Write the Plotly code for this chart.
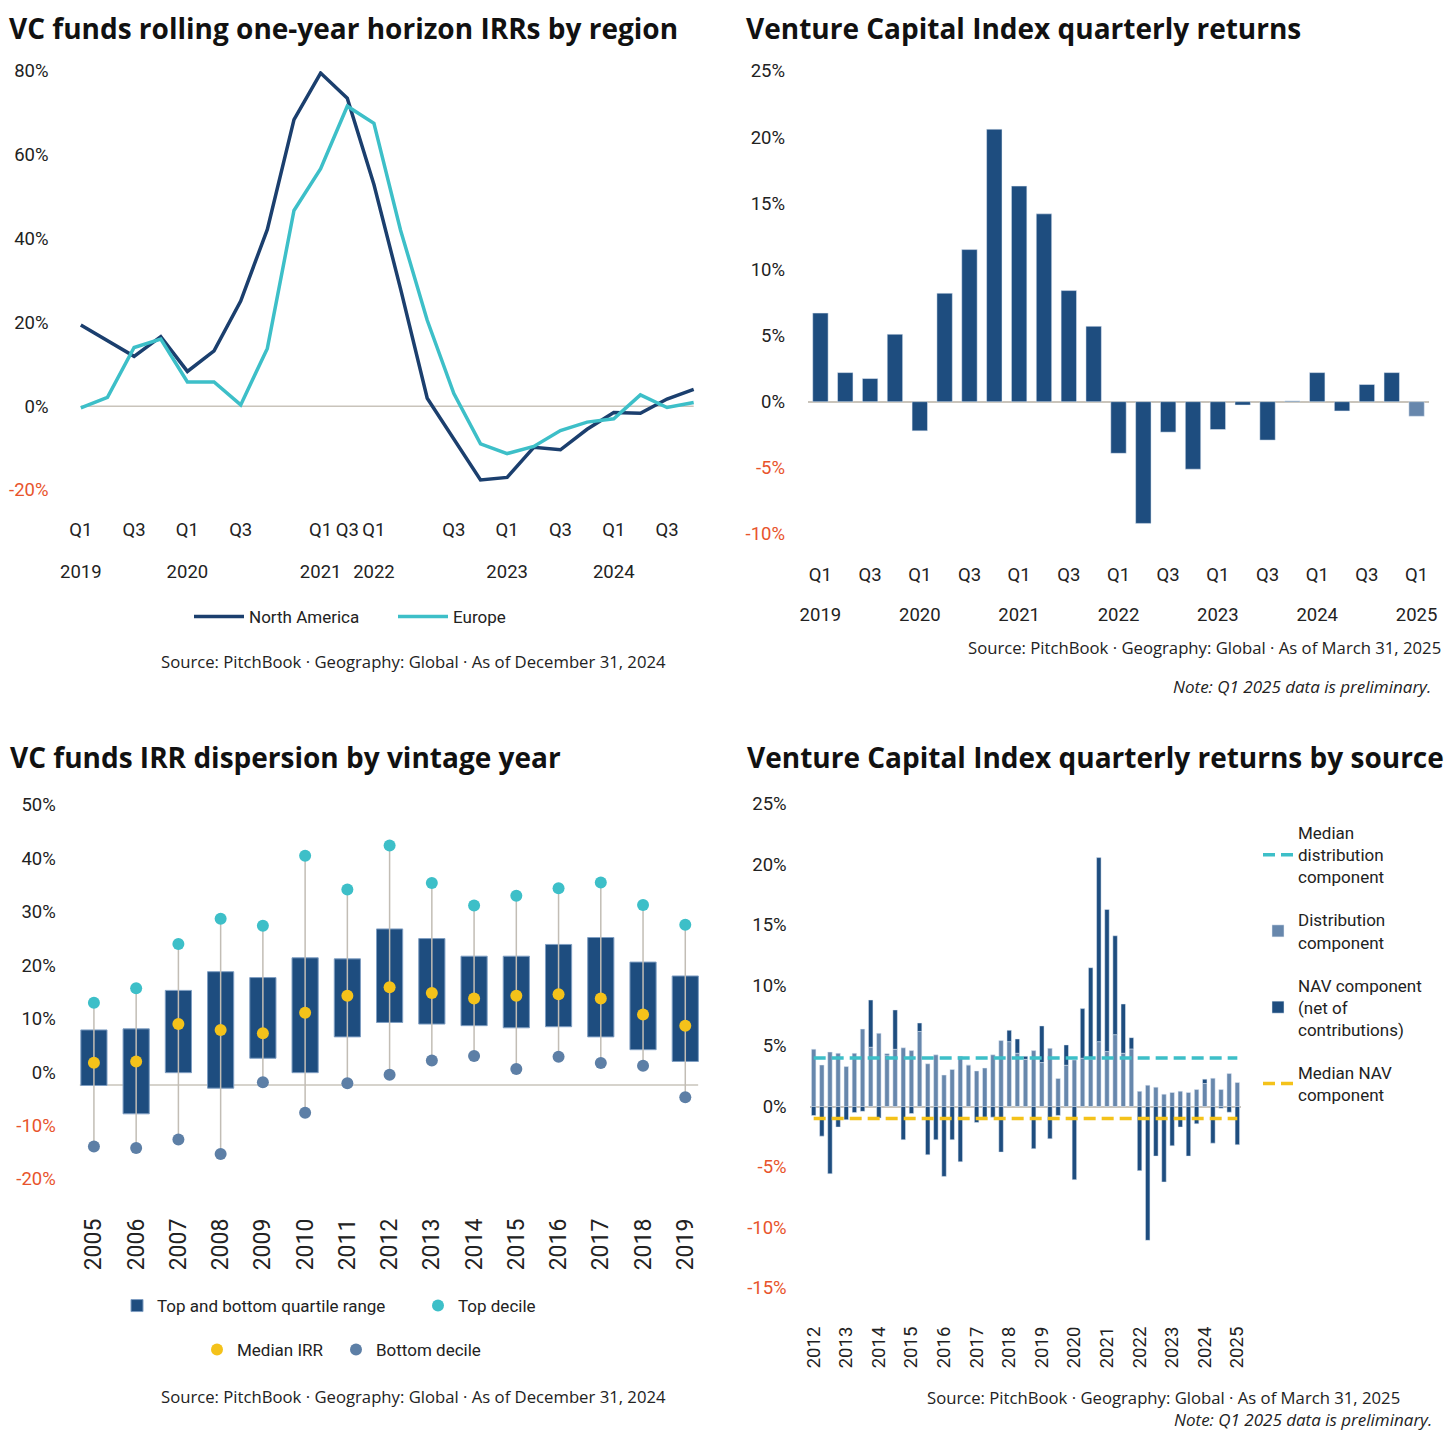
import plotly.graph_objects as go

W, H = 1456, 1440

# ---------------- DATA ----------------
# Panel 1: rolling one-year horizon IRRs by region (2019 Q1 .. 2024 Q4)
p1_quarters = [f"{y} Q{q}" for y in range(2019, 2025) for q in range(1, 5)]
na_irr = [19.4, 15.7, 11.9, 16.6, 8.3, 13.2, 25.1, 42.2, 68.4, 79.5, 73.5, 52.9,
          28.0, 1.9, -8.0, -17.6, -17.0, -9.8, -10.4, -5.5, -1.5, -1.7, 1.7, 4.0]
eu_irr = [-0.4, 2.1, 14.0, 16.0, 5.8, 5.8, 0.3, 13.8, 46.7, 56.7, 71.6, 67.5,
          42.0, 20.5, 3.0, -9.0, -11.3, -9.6, -5.8, -3.8, -3.0, 2.7, -0.3, 0.9]
p1_qtick_quarters = ["2019 Q1", "2019 Q3", "2020 Q1", "2020 Q3", "2021 Q2", "2021 Q3",
                     "2021 Q4", "2022 Q3", "2023 Q1", "2023 Q3", "2024 Q1", "2024 Q3"]
p1_qtick_text = ["Q1", "Q3", "Q1", "Q3", "Q1", "Q3", "Q1", "Q3", "Q1", "Q3", "Q1", "Q3"]
p1_ytick_quarters = ["2019 Q1", "2020 Q1", "2021 Q2", "2021 Q4", "2023 Q1", "2024 Q1"]
p1_ytick_text = ["2019", "2020", "2021", "2022", "2023", "2024"]
p1_yticks = [-20, 0, 20, 40, 60, 80]

# Panel 2: Venture Capital Index quarterly returns (2019 Q1 .. 2025 Q1)
p2_quarters = [f"{y} Q{q}" for y in range(2019, 2026) for q in range(1, 5)][:25]
p2_returns = [6.7, 2.2, 1.75, 5.1, -2.2, 8.2, 11.5, 20.6, 16.3, 14.2, 8.4, 5.7,
              -3.9, -9.2, -2.3, -5.1, -2.1, -0.25, -2.9, 0.06, 2.2, -0.7, 1.3, 2.2, -1.1]
p2_preliminary = "2025 Q1"
p2_qtick_quarters = p2_quarters[::2]
p2_qtick_text = ["Q1", "Q3"] * 6 + ["Q1"]
p2_ytick_quarters = ["2019 Q1", "2020 Q1", "2021 Q1", "2022 Q1", "2023 Q1", "2024 Q1", "2025 Q1"]
p2_ytick_text = ["2019", "2020", "2021", "2022", "2023", "2024", "2025"]
p2_yticks = [-10, -5, 0, 5, 10, 15, 20, 25]

# Panel 3: IRR dispersion by vintage year
vintages = [str(y) for y in range(2005, 2020)]
top_decile = [13.0, 15.7, 24.0, 28.7, 27.4, 40.5, 34.2, 42.4, 35.4, 31.2, 33.0, 34.4, 35.5, 31.3, 27.6]
top_quartile = [7.9, 8.1, 15.3, 18.8, 17.7, 21.4, 21.2, 26.8, 25.0, 21.7, 21.7, 23.9, 25.2, 20.6, 18.0]
median_irr = [1.75, 2.0, 9.0, 7.9, 7.3, 11.1, 14.3, 15.9, 14.8, 13.8, 14.3, 14.6, 13.8, 10.8, 8.7]
bottom_quartile = [-2.5, -7.8, -0.1, -3.0, 2.6, -0.1, 6.6, 9.3, 9.0, 8.7, 8.3, 8.5, 6.6, 4.2, 2.0]
bottom_decile = [-13.9, -14.2, -12.6, -15.3, -1.9, -7.6, -2.1, -0.5, 2.2, 3.0, 0.6, 2.9, 1.7, 1.2, -4.7]
p3_baseline = -2.4
p3_yticks = [-20, -10, 0, 10, 20, 30, 40, 50]

# Panel 4: quarterly returns by source (2012 Q1 .. 2025 Q1)
p4_quarters = [f"{y} Q{q}" for y in range(2012, 2026) for q in range(1, 5)][:53]
dist_component = [4.74, 3.43, 4.5, 4.4, 3.3, 4.4, 6.4, 4.9, 6.05, 4.26,
                  4.73, 4.85, 4.62, 6.2, 3.53, 4.27, 2.6, 3.06, 4.15, 3.44,
                  2.94, 3.18, 4.27, 5.45, 5.36, 4.4, 3.9, 4.62, 3.63, 4.81,
                  2.31, 3.41, 3.85, 3.99, 3.93, 5.36, 4.54, 5.94, 4.4, 4.76,
                  1.25, 1.76, 1.6, 1.02, 1.16, 1.27, 1.16, 1.4, 1.9, 2.34,
                  1.4, 2.72, 1.98]
nav_component = [-0.75, -2.45, -5.56, -1.7, -1.1, -0.5, -0.4, 3.9, -0.96, 0.1,
                 3.25, -2.75, -0.58, 0.7, -3.99, -2.75, -5.78, -2.75, -4.57, 0.0,
                 -1.32, -0.88, -0.88, -3.77, 0.94, 1.18, 0.25, -3.49, 3.03, -2.67,
                 -0.74, 1.68, -6.05, 4.1, 7.54, 15.21, 11.74, 8.17, 4.07, 0.93,
                 -5.3, -11.06, -4.1, -6.24, -3.25, -1.7, -4.1, -1.43, 0.36, -3.03,
                 -0.14, -0.47, -3.16]
median_dist = 4.0
median_nav = -1.0
p4_year_ticks = [f"{y} Q1" for y in range(2012, 2026)]
p4_year_text = [str(y) for y in range(2012, 2026)]
p4_yticks = [-15, -10, -5, 0, 5, 10, 15, 20, 25]

# ---------------- STYLE ----------------
NAVY = "#1b3f6e"
TEAL = "#3dbfc8"
BAR = "#1e4d7f"
BAR_LIGHT = "#6787ac"
BOTTOM_DOT = "#5d7fa6"
YELLOW = "#f4c21a"
RED = "#e8542c"
ZERO = "#c9c4bb"
WHISK = "#c2bdb5"
TXT = "#222222"
COND = "Roboto, Liberation Sans, sans-serif"
TITLE_FONT = dict(family="Open Sans, sans-serif", size=28, color="#111111")
SRC_FONT = dict(family="Open Sans, sans-serif", size=16.7, color="#222222")
NOTE_FONT = dict(family="Open Sans, sans-serif", size=17, color="#222222")
TICK_FONT = dict(family=COND, size=18.5, color=TXT)
LEG_FONT = dict(family=COND, size=17, color=TXT)

OFF = 8  # page body margin of the html page


def px_x(p):
    return (p - OFF) / W


def px_y(p):
    return 1 - (p - OFF) / H


def pct_text(vals):
    return [f"<span style='color:{RED}'>{v}%</span>" if v < 0 else f"{v}%" for v in vals]


fig = go.Figure()

# ---------------- PANEL 1 ----------------
p1_x = list(range(len(p1_quarters)))
fig.add_trace(go.Scatter(x=p1_x, y=na_irr, mode="lines", name="North America", legendwidth=139,
                         line=dict(color=NAVY, width=3.5), xaxis="x", yaxis="y", legend="legend"))
fig.add_trace(go.Scatter(x=p1_x, y=eu_irr, mode="lines", name="Europe",
                         line=dict(color=TEAL, width=3.5), xaxis="x", yaxis="y", legend="legend"))
fig.add_trace(go.Scatter(x=[p1_quarters.index(q) for q in p1_ytick_quarters], y=[None] * len(p1_ytick_quarters),
                         mode="markers", showlegend=False, hoverinfo="skip", xaxis="x5", yaxis="y"))

# ---------------- PANEL 2 ----------------
p2_x = list(range(len(p2_quarters)))
fig.add_trace(go.Bar(x=p2_x, y=p2_returns, showlegend=False, width=0.62,
                     marker=dict(color=[BAR_LIGHT if q == p2_preliminary else BAR for q in p2_quarters]),
                     xaxis="x2", yaxis="y2"))
fig.add_trace(go.Scatter(x=[p2_quarters.index(q) for q in p2_ytick_quarters], y=[None] * len(p2_ytick_quarters),
                         mode="markers", showlegend=False, hoverinfo="skip", xaxis="x6", yaxis="y2"))

# ---------------- PANEL 3 ----------------
wx, wy = [], []
for v, lo, hi in zip(vintages, bottom_decile, top_decile):
    wx += [v, v, None]
    wy += [lo, hi, None]
fig.add_trace(go.Scatter(x=wx, y=wy, mode="lines", line=dict(color=WHISK, width=1.5),
                         showlegend=False, hoverinfo="skip", xaxis="x3", yaxis="y3"))
fig.add_trace(go.Bar(x=vintages, y=[t - b for t, b in zip(top_quartile, bottom_quartile)],
                     base=bottom_quartile, name="Top and bottom quartile range", width=0.62, legendwidth=256,
                     marker=dict(color=BAR, line=dict(color="#7f9ec2", width=1)),
                     xaxis="x3", yaxis="y3", legend="legend2"))
fig.add_trace(go.Scatter(x=vintages, y=top_decile, mode="markers", name="Top decile",
                         marker=dict(color=TEAL, size=12), xaxis="x3", yaxis="y3", legend="legend2"))
fig.add_trace(go.Scatter(x=vintages, y=median_irr, mode="markers", name="Median IRR", legendwidth=94,
                         marker=dict(color=YELLOW, size=12), xaxis="x3", yaxis="y3", legend="legend3"))
fig.add_trace(go.Scatter(x=vintages, y=bottom_decile, mode="markers", name="Bottom decile",
                         marker=dict(color=BOTTOM_DOT, size=12), xaxis="x3", yaxis="y3", legend="legend3"))

# ---------------- PANEL 4 ----------------
fig.add_trace(go.Bar(x=p4_quarters, y=dist_component, name="Distribution<br>component", width=0.55,
                     marker=dict(color=BAR_LIGHT), xaxis="x4", yaxis="y4", legend="legend4",
                     legendrank=2, legendgroup="g2"))
fig.add_trace(go.Bar(x=p4_quarters, y=nav_component, name="NAV component<br>(net of<br>contributions)",
                     width=0.55, marker=dict(color=BAR), xaxis="x4", yaxis="y4", legend="legend4",
                     legendrank=3, legendgroup="g3"))
fig.add_trace(go.Scatter(x=[p4_quarters[0], p4_quarters[-1]], y=[median_dist, median_dist], mode="lines",
                         name="Median<br>distribution<br>component", legendrank=1, legendgroup="g1",
                         line=dict(color=TEAL, width=3.5, dash="12px,6px"), xaxis="x4", yaxis="y4",
                         legend="legend4"))
fig.add_trace(go.Scatter(x=[p4_quarters[0], p4_quarters[-1]], y=[median_nav, median_nav], mode="lines",
                         name="Median NAV<br>component", legendrank=4, legendgroup="g4",
                         line=dict(color=YELLOW, width=3.5, dash="12px,6px"), xaxis="x4", yaxis="y4",
                         legend="legend4"))

# ---------------- LAYOUT ----------------
base_axis = dict(showgrid=False, showline=False, ticks="", tickfont=TICK_FONT, fixedrange=True,
                 automargin=False, tickangle=0)

p1_dom_x = [px_x(67.5), px_x(707.0)]
p2_dom_x = [px_x(808.0), px_x(1429.0)]
p3_dom_x = [px_x(72.8), px_x(706.4)]
p4_dom_x = [px_x(809.6), px_x(1241.4)]

layout = dict(
    width=W, height=H, margin=dict(l=0, r=0, t=0, b=0, pad=0, autoexpand=False),
    paper_bgcolor="white", plot_bgcolor="white",
    barmode="relative", showlegend=True,
    font=dict(family=COND, color=TXT),
    xaxis=dict(base_axis, domain=p1_dom_x, anchor="y", range=[-0.5, 23.5], zeroline=False,
               tickvals=[p1_quarters.index(q) for q in p1_qtick_quarters], ticktext=p1_qtick_text,
               ticklabelstandoff=26),
    xaxis5=dict(base_axis, overlaying="x", anchor="y", side="bottom", range=[-0.5, 23.5], zeroline=False,
                tickvals=[p1_quarters.index(q) for q in p1_ytick_quarters], ticktext=p1_ytick_text,
                ticklabelstandoff=68),
    yaxis=dict(base_axis, domain=[px_y(490), px_y(71)], anchor="x", range=[-20, 80],
               tickvals=p1_yticks, ticktext=pct_text(p1_yticks), zeroline=False, ticklabelstandoff=18),
    xaxis2=dict(base_axis, domain=p2_dom_x, anchor="y2", range=[-0.5, 24.5], zeroline=False,
                tickvals=[p2_quarters.index(q) for q in p2_qtick_quarters], ticktext=p2_qtick_text,
                ticklabelstandoff=27),
    xaxis6=dict(base_axis, overlaying="x2", anchor="y2", side="bottom", range=[-0.5, 24.5], zeroline=False,
                tickvals=[p2_quarters.index(q) for q in p2_ytick_quarters], ticktext=p2_ytick_text,
                ticklabelstandoff=67),
    yaxis2=dict(base_axis, domain=[px_y(534), px_y(71)], anchor="x2", range=[-10, 25],
                tickvals=p2_yticks, ticktext=pct_text(p2_yticks), zeroline=True, zerolinecolor=ZERO,
                zerolinewidth=2, ticklabelstandoff=22),
    xaxis3=dict(base_axis, domain=p3_dom_x, anchor="y3", tickangle=-90, zeroline=False,
                range=[-0.5, 14.5], tickfont=dict(family=COND, size=23, color=TXT), ticklabelstandoff=34),
    yaxis3=dict(base_axis, domain=[px_y(1179), px_y(805)], anchor="x3", range=[-20, 50],
                tickvals=p3_yticks, ticktext=pct_text(p3_yticks), zeroline=False, ticklabelstandoff=16),
    xaxis4=dict(base_axis, domain=p4_dom_x, anchor="y4", tickangle=-90, zeroline=False,
                range=[-0.5, 52.5], tickvals=p4_year_ticks, ticktext=p4_year_text,
                tickfont=dict(family=COND, size=18.5, color=TXT), ticklabelstandoff=34),
    yaxis4=dict(base_axis, domain=[px_y(1288), px_y(804)], anchor="x4", range=[-15, 25],
                tickvals=p4_yticks, ticktext=pct_text(p4_yticks), zeroline=True, zerolinecolor=ZERO,
                zerolinewidth=1.5, ticklabelstandoff=22),
    legend=dict(orientation="h", x=px_x(189), xanchor="left", y=px_y(617), yanchor="middle",
                font=LEG_FONT, itemwidth=50, bgcolor="rgba(0,0,0,0)"),
    legend2=dict(orientation="h", x=px_x(117), xanchor="left", y=px_y(1306), yanchor="middle",
                 font=LEG_FONT, itemwidth=30, bgcolor="rgba(0,0,0,0)"),
    legend3=dict(orientation="h", x=px_x(197), xanchor="left", y=px_y(1350), yanchor="middle",
                 font=LEG_FONT, itemwidth=30, bgcolor="rgba(0,0,0,0)"),
    legend4=dict(orientation="v", x=px_x(1258), xanchor="left", y=px_y(815), yanchor="top",
                 font=LEG_FONT, itemwidth=30, bgcolor="rgba(0,0,0,0)", tracegroupgap=18),
)
fig.update_layout(**layout)

# zero line panel 1 and baseline panel 3
fig.add_shape(type="line", xref="x", yref="y", x0=p1_x[0], x1=p1_x[-1], y0=0, y1=0,
              line=dict(color=ZERO, width=1.5), layer="below")
fig.add_shape(type="line", xref="x3 domain", yref="y3", x0=0.011, x1=0.987, y0=p3_baseline, y1=p3_baseline,
              line=dict(color=ZERO, width=1.5), layer="below")

# ---------------- TEXT ----------------
ann = [
    dict(text="<b>VC funds rolling one-year horizon IRRs by region</b>", x=px_x(8), y=1,
         xanchor="left", yanchor="top", font=TITLE_FONT, borderpad=0),
    dict(text="<b>Venture Capital Index quarterly returns</b>", x=px_x(745), y=1,
         xanchor="left", yanchor="top", font=TITLE_FONT, borderpad=0),
    dict(text="<b>VC funds IRR dispersion by vintage year</b>", x=px_x(8), y=px_y(757),
         xanchor="left", yanchor="middle", font=TITLE_FONT),
    dict(text="<b>Venture Capital Index quarterly returns by source</b>", x=px_x(745), y=px_y(757),
         xanchor="left", yanchor="middle", font=TITLE_FONT),
    dict(text="Source: PitchBook · Geography: Global · As of December 31, 2024", x=px_x(413), y=px_y(662),
         xanchor="center", yanchor="middle", font=SRC_FONT),
    dict(text="Source: PitchBook · Geography: Global · As of March 31, 2025", x=px_x(1443), y=px_y(647),
         xanchor="right", yanchor="middle", font=SRC_FONT),
    dict(text="<i>Note: Q1 2025 data is preliminary.</i>", x=px_x(1433), y=px_y(686),
         xanchor="right", yanchor="middle", font=NOTE_FONT),
    dict(text="Source: PitchBook · Geography: Global · As of December 31, 2024", x=px_x(413), y=px_y(1396),
         xanchor="center", yanchor="middle", font=SRC_FONT),
    dict(text="Source: PitchBook · Geography: Global · As of March 31, 2025", x=px_x(1163), y=px_y(1397),
         xanchor="center", yanchor="middle", font=SRC_FONT),
    dict(text="<i>Note: Q1 2025 data is preliminary.</i>", x=px_x(1434), y=px_y(1419),
         xanchor="right", yanchor="middle", font=NOTE_FONT),
]
for a in ann:
    a.update(xref="paper", yref="paper", showarrow=False)
fig.update_layout(annotations=ann)

fig.write_html("out.html")
